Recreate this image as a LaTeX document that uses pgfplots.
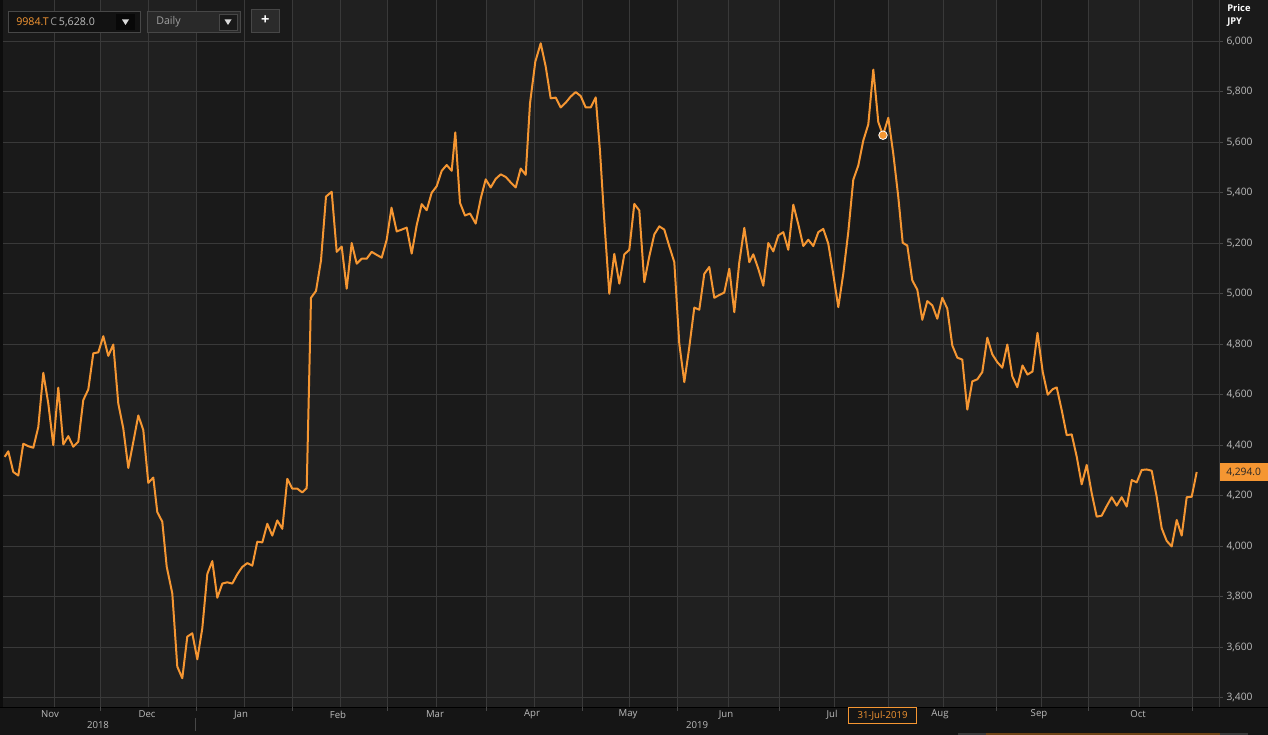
\documentclass[border=0pt]{standalone}
\usepackage{pgfplots}
\pgfplotsset{compat=1.18}
\usepackage{fontspec}
\setmainfont{Open Sans}
\definecolor{plotbg}{HTML}{1E1E1E}
\definecolor{banddk}{HTML}{1A1A1A}
\definecolor{bandlt}{HTML}{202020}
\definecolor{outerbg}{HTML}{151515}
\definecolor{gridcol}{HTML}{393939}
\definecolor{gridlt}{HTML}{474747}
\definecolor{lineor}{RGB}{245,150,50}
\definecolor{labgray}{HTML}{BDBDBD}
\newcommand{\fs}[1]{\fontsize{#1}{#1}\selectfont}
\begin{document}
\begin{tikzpicture}
\begin{scope}[x=0.75pt,y=-0.75pt]
  \fill[outerbg] (0,0) rectangle (1268,735);
  \fill[banddk] (3,0) rectangle (1219,707);
  \foreach \a/\b in {100/196,292/387,486/582,677/779,888/996,1088/1192} {\fill[bandlt] (\a,0) rectangle (\b,707);}
  \fill[banddk] (1219,0) rectangle (1268,707);
  \fill[black!95] (0,0) rectangle (3,707);
\end{scope}
\begin{axis}[
  at={(2.25pt,-530.25pt)}, anchor=south west,
  scale only axis, width=912pt, height=530.25pt,
  xmin=3, xmax=1219, ymin=3363.1, ymax=6163.6,
  clip=false,
  axis line style={draw=none},
  xtick={54,100,148,196,244,292,340,387,436,486,534,582,629,677,728,779,834,888,943,996,1041,1088,1139,1192},
  xticklabels={},
  major x tick style={draw=none},
  ytick={3400,3600,...,6000},
  ytick pos=right, yticklabel pos=right,
  tick align=outside, major tick length=3pt,
  major y tick style={draw=gridlt, line width=0.75pt},
  grid=major,
  grid style={gridcol, line width=0.75pt},
  yticklabel style={font=\fs{7.7}, text=labgray, anchor=west, inner sep=0pt, xshift=2.5pt},
  /pgf/number format/.cd, 1000 sep={,}, assume math mode=true,
]
\addplot[lineor, line width=1.5pt, line join=round] coordinates {
(4.7,4354) (8.3,4376) (13.3,4294) (18.3,4280) (23.3,4406) (28.3,4396) (33.3,4390) (38.3,4472) (43.3,4687) (48.3,4565)
(53.3,4400) (58.3,4628) (63.3,4403) (68.3,4436) (73.3,4394) (78.3,4414) (83.3,4579) (88.3,4621) (93.3,4764) (98.3,4768)
(103.3,4832) (108.3,4754) (113.3,4799) (118.3,4565) (123.3,4466) (128.3,4310) (133.3,4413) (138.3,4518) (143.3,4460) (148.3,4251)
(153.3,4272) (157.3,4135) (162.3,4097) (166.7,3919) (172.3,3813) (177.3,3523) (182.3,3477) (187.3,3642) (192.3,3655) (197.3,3552)
(202.3,3675) (207.3,3890) (212.3,3941) (217.3,3796) (222.3,3852) (227.3,3857) (232.3,3852) (237.3,3889) (242.3,3918) (247.3,3933)
(252.3,3923) (257.3,4018) (262.3,4015) (267.3,4089) (272.3,4042) (277.3,4102) (282.3,4069) (287.3,4267) (292.3,4228) (297.3,4228)
(302.3,4213) (306.7,4230) (311,4984) (316,5011) (321,5132) (326,5385) (331.7,5404) (336.7,5166) (341.7,5187) (346.7,5020)
(351.7,5201) (356.7,5119) (361.7,5139) (366.7,5139) (371.7,5166) (376.7,5154) (381.7,5143) (386.7,5214) (391.5,5341) (396.7,5247)
(401.7,5254) (406.7,5262) (411.7,5159) (416.7,5272) (421.7,5355) (426.7,5331) (431.7,5400) (436.7,5426) (441.7,5487) (446.7,5510)
(451.7,5487) (455.3,5639) (460,5360) (465,5310) (470,5318) (475.7,5278) (480.7,5377) (485.7,5453) (490.7,5421) (495.7,5455)
(500.7,5473) (505.7,5463) (510.7,5441) (515.7,5421) (520.7,5496) (525.7,5471) (530,5754) (535.3,5919) (540.7,5992) (545.7,5900)
(550.7,5774) (555.7,5777) (560.7,5738) (565.7,5757) (570.7,5781) (575.7,5799) (580.7,5783) (585.7,5738) (590.7,5738) (595.7,5778)
(600,5565) (604.3,5290) (609.3,5000) (614.3,5158) (619.3,5040) (624.3,5156) (629.3,5174) (634.3,5356) (639.3,5330) (644.3,5046)
(649.3,5148) (654.3,5235) (659.3,5267) (664.3,5254) (669.3,5188) (674.3,5125) (679.3,4802) (684.3,4650) (689.3,4789) (694.3,4945)
(699.3,4937) (704.3,5079) (709.3,5106) (714.3,4984) (719.3,4995) (724.3,5005) (729.3,5099) (734.3,4927) (739.3,5125) (744.3,5261)
(749.3,5125) (753.3,5156) (758.3,5099) (763.3,5032) (768.3,5201) (773.3,5168) (778.3,5231) (783.3,5244) (788.3,5174) (793.3,5353)
(798.3,5275) (803.3,5189) (808.3,5214) (813.3,5189) (818.3,5244) (823.3,5257) (828.3,5198) (833.3,5076) (838.3,4947) (843.3,5080)
(848.3,5245) (853.3,5452) (858.3,5508) (863.3,5607) (868.3,5671) (873.3,5888) (878.3,5680) (883,5628) (888.3,5697) (893.3,5554)
(898.3,5383) (902.7,5202) (907.3,5191) (912.3,5053) (917.3,5016) (922.3,4897) (927.3,4971) (932.3,4954) (937.3,4901) (942.3,4984)
(947.3,4941) (952.3,4795) (957.3,4747) (962.3,4739) (967.3,4541) (972.3,4653) (977.3,4661) (982.3,4690) (987.3,4826) (992.3,4760)
(997.3,4729) (1002.3,4707) (1007.3,4799) (1012.3,4673) (1017.3,4630) (1022.5,4716) (1027.5,4680) (1032.5,4692) (1037.5,4845) (1042.7,4691)
(1047.7,4600) (1052.7,4622) (1056.7,4629) (1061.7,4539) (1066.7,4440) (1071.7,4443) (1076.7,4355) (1081.7,4245) (1086.7,4322) (1091.7,4210)
(1096.7,4117) (1101.7,4121) (1106.7,4159) (1111.7,4194) (1116.7,4161) (1121.7,4194) (1126.7,4157) (1131.7,4262) (1136.7,4253) (1141.7,4302)
(1146.7,4304) (1151.7,4299) (1156.7,4196) (1161.7,4071) (1166.7,4021) (1171.7,3999) (1176.7,4104) (1181.7,4042) (1186.7,4194) (1191.7,4196)
(1196.7,4294)
};
\addplot[only marks, mark=*, mark size=3.2pt, mark options={fill=lineor, draw=white, line width=0.6pt}] coordinates {(883,5628)};
\node[anchor=west, fill=lineor, text=black!85, minimum width=36.75pt, minimum height=13.5pt, inner sep=0pt, font=\fs{7.7}] at (axis cs:1219,4294) {4,294.0};
\end{axis}
\begin{scope}[x=0.75pt,y=-0.75pt]
  \draw[gridcol, line width=0.75pt] (1219,0) -- (1219,707);
  \fill[outerbg] (0,707) rectangle (1268,735);
  \draw[black, line width=0.75pt] (0,707) -- (1268,707);
  \foreach \t in {100,196,292,387,486,582,677,779,888,996,1088,1192} {\draw[gridlt, line width=0.6pt] (\t,707) -- (\t,711);}
  \foreach \x/\m in {50/Nov,147/Dec,241/Jan,338/Feb,435/Mar,532/Apr,628/May,726/Jun,832/Jul,940/Aug,1039/Sep,1138/Oct} {\node[text=labgray, font=\fs{7.2}] at (\x,714.5) {\m};}
  \node[text=labgray, font=\fs{7.2}] at (98,725.5) {2018};
  \node[text=labgray, font=\fs{7.2}] at (697,725.5) {2019};
  \draw[gridlt, line width=0.75pt] (195,718) -- (195,731);
  \draw[lineor, fill=outerbg, line width=0.75pt] (848.5,707.5) rectangle (916.5,723.5);
  \node[text=lineor, font=\fs{7.2}] at (882.5,715.5) {31-Jul-2019};
  \fill[gridcol] (958,733) rectangle (986,735);
  \fill[lineor!45!black] (986,733) rectangle (1220,735);
  \fill[gridcol] (1220,733) rectangle (1248,735);
  \node[anchor=west, text=white, font=\fs{7}\bfseries, inner sep=0pt] at (1227,8) {Price};
  \node[anchor=west, text=white, font=\fs{7}\bfseries, inner sep=0pt] at (1227,22) {JPY};
  \draw[fill=black!93, draw=gridlt, line width=0.75pt] (8.5,11.5) rectangle (140,33);
  \node[anchor=west, inner sep=0pt, font=\fs{8}] at (16,22) {\textcolor{lineor}{9984.T}\,\textcolor{labgray!80!black}{C}\,\textcolor{labgray}{5,628.0}};
  \fill[black!97] (116,14) rectangle (135,30);
  \fill[white!85!black] (122,19.5) -- (129,19.5) -- (125.5,25) -- cycle;
  \draw[fill=plotbg!95!white, draw=gridlt, line width=0.75pt] (147.5,11.5) rectangle (240.5,33);
  \node[anchor=west, inner sep=0pt, font=\fs{8}, text=labgray!85!black] at (156,22) {Daily};
  \draw[fill=black!90, draw=gridlt, line width=0.5pt] (219,14.5) rectangle (237,30);
  \fill[white!85!black] (224.5,19.5) -- (231.5,19.5) -- (228,25) -- cycle;
  \draw[fill=white!17!black, draw=gridlt, line width=0.75pt] (251.5,9.5) rectangle (279,33);
  \node[text=white, font=\fs{11}\bfseries, inner sep=0pt] at (265.2,20.5) {+};
\end{scope}
\pgfresetboundingbox
\path[use as bounding box] (0,0) rectangle (951pt,-551.25pt);
\end{tikzpicture}
\end{document}
